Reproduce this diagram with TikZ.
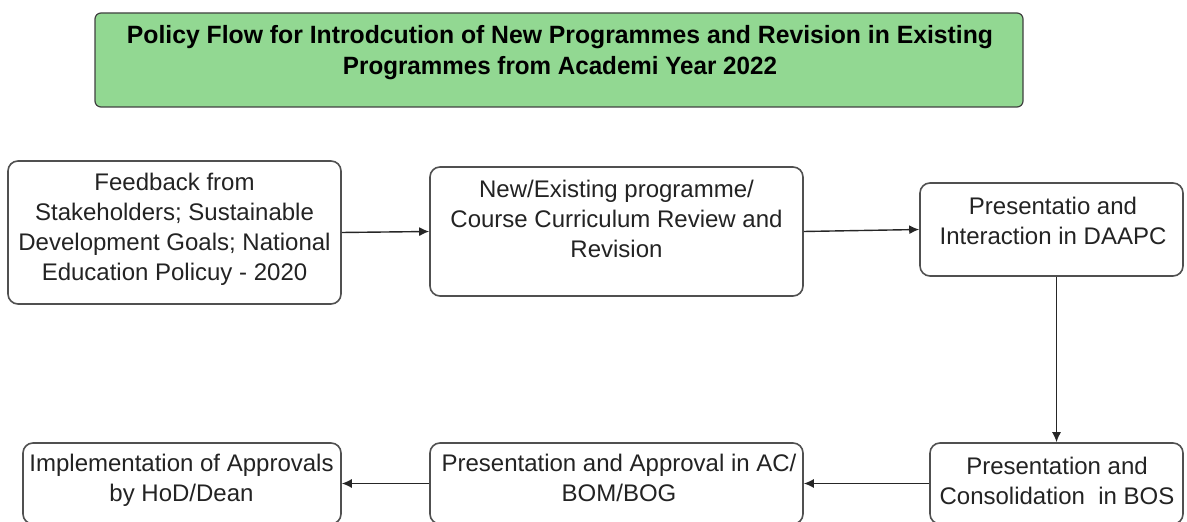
\documentclass[tikz,border=0pt]{standalone}
\usepackage{fontspec}
\setmainfont{Liberation Sans}
\usetikzlibrary{arrows.meta}
\definecolor{titlegreen}{RGB}{146,216,146}
\definecolor{edgegray}{RGB}{80,80,80}
\definecolor{txtgray}{RGB}{35,35,35}
\begin{document}
\begin{tikzpicture}[x=0.5pt,y=-0.5pt,
  stepbox/.style={draw=edgegray, line width=0.8pt, rounded corners=5pt, fill=white, inner sep=0pt},
  titlebox/.style={draw=black!75, line width=0.6pt, rounded corners=3pt, fill=titlegreen, inner sep=0pt},
  txt/.style={align=center, font=\fontsize{12}{15}\selectfont, text=txtgray, inner sep=0pt},
  titletxt/.style={align=center, font=\bfseries\fontsize{12.5}{15.5}\selectfont, text=black, inner sep=0pt},
  arr/.style={draw=black!85, line width=0.7pt, -{Latex[length=5pt,width=4.5pt]}}]
\useasboundingbox (0,0) rectangle (1187,522);
\clip (0,0) rectangle (1187,522);
% title
\node[titlebox, minimum width=464pt, minimum height=47pt] (title) at (559,60) {};
\node[titletxt] (titlet) at (560,53) {\resizebox{433pt}{\height}{Policy Flow for Introdcution of New Programmes and Revision in Existing}\\
\resizebox{217pt}{\height}{Programmes from Academi Year 2022}};
% boxes
\node[stepbox, minimum width=166.5pt, minimum height=71.5pt] (b1) at (174.5,232.5) {};
\node[stepbox, minimum width=186.5pt, minimum height=64.5pt] (b2) at (616.5,231.5) {};
\node[stepbox, minimum width=131.5pt, minimum height=46.5pt] (b3) at (1051.5,229.5) {};
\node[stepbox, minimum width=126.5pt, minimum height=40.5pt] (b4) at (1056.5,483.5) {};
\node[stepbox, minimum width=186.5pt, minimum height=40.5pt] (b5) at (616.5,483.5) {};
\node[stepbox, minimum width=159pt, minimum height=40.5pt] (b6) at (182,483.5) {};
% texts
\node[txt] (t1) at (174.5,229) {Feedback from\\Stakeholders; Sustainable\\Development Goals; National\\Education Policuy - 2020};
\node[txt] (t2) at (616.5,219) {New/Existing programme/\\Course Curriculum Review and\\Revision};
\node[txt] (t3) at (1053,221) {Presentatio and\\Interaction in DAAPC};
\node[txt] (t4) at (1057,481) {Presentation and\\Consolidation\ \ in BOS};
\node[txt] (t5) at (619,478) {Presentation and Approval in AC/\\BOM/BOG};
\node[txt] (t6) at (181.5,480) {Implementation of Approvals\\by HoD/Dean};
% connectors
\draw[arr] (b1.east) -- (b2.west);
\draw[arr] (b2.east) -- (b3.west);
\draw[arr] (b3.south -| b4.north) -- (b4.north);
\draw[arr] (b4.west) -- (b5.east);
\draw[arr] (b5.west) -- (b6.east);
\end{tikzpicture}
\end{document}
